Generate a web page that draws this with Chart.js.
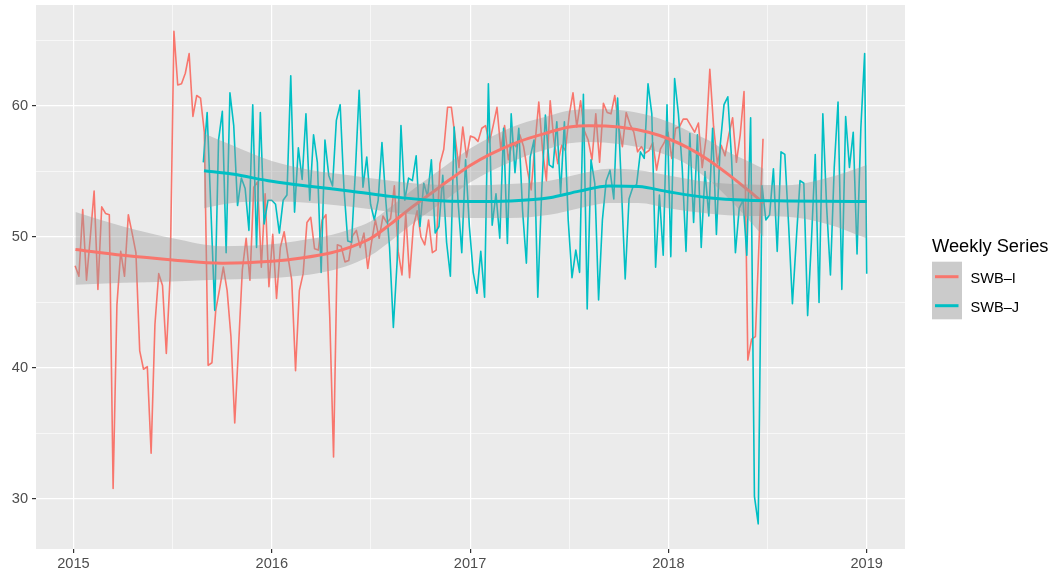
<!DOCTYPE html>
<html>
<head>
<meta charset="utf-8">
<script src="https://cdn.jsdelivr.net/npm/chart.js@4.4.1/dist/chart.umd.min.js"></script>
<style>
  html, body { margin: 0; padding: 0; background: #ffffff; }
  canvas { display: block; }
</style>
</head>
<body>
<canvas id="c" width="1053" height="571"></canvas>
<script>
// ---------------- DATA ----------------
const seriesNames = ["SWB\u2013I", "SWB\u2013J"];
const legendTitle = "Weekly Series";

// weekly observations, first week start (decimal year) and step
const weekStep = 7 / 365.25;
const swbIStart = 2015 + 3 / 365;        // 2015-01-04
const swbJStart = 2015 + 239 / 365;      // 2015-08-28
const swbJLastDate = 2019.0;             // final observation 2019-01-01

const swbIValues = [
  47.8, 47.0, 52.1, 46.7, 50.0, 53.5, 46.0, 52.3, 51.8, 51.7,
  30.8, 44.8, 48.9, 47.0, 51.7, 50.3, 48.8, 41.3, 39.9, 40.1,
  33.5, 43.3, 47.2, 46.3, 41.1, 47.0, 65.7, 61.6, 61.7, 62.5,
  64.0, 59.2, 60.8, 60.6, 58.0, 40.2, 40.4, 44.4, 46.0, 47.7,
  45.9, 42.4, 35.8, 41.6, 47.5, 49.9, 46.7, 53.8, 54.2, 47.7,
  53.3, 46.2, 50.2, 45.3, 49.2, 50.4, 48.5, 46.7, 39.8, 45.9,
  47.2, 51.1, 51.5, 49.1, 49.0, 51.3, 51.7, 43.9, 33.2, 49.4,
  49.3, 48.1, 48.2, 50.1, 50.5, 49.2, 50.3, 47.6, 49.6, 51.3,
  49.9, 51.6, 51.1, 51.4, 53.9, 48.9, 47.1, 51.8, 46.9, 50.8,
  52.0, 50.0, 49.4, 51.3, 48.8, 49.0, 55.6, 56.7, 59.9, 59.9,
  57.6, 55.3, 58.4, 56.1, 57.7, 57.6, 57.3, 58.3, 58.5, 57.2,
  58.5, 59.9, 56.7, 58.5, 55.9, 57.2, 56.9, 57.8, 56.9, 55.1,
  53.6, 57.1, 60.3, 56.6, 54.3, 60.4, 57.3, 55.6, 57.0, 56.6,
  59.3, 61.0, 58.4, 60.4, 58.1, 57.4, 55.9, 59.4, 55.7, 60.2,
  59.5, 59.4, 60.8, 58.5, 56.9, 59.5, 58.6, 58.0, 56.5, 56.9,
  56.4, 56.6, 57.2, 55.1, 56.7, 57.2, 58.0, 56.0, 58.3, 58.4,
  59.0, 59.0, 58.5, 58.0, 58.7, 55.3, 57.5, 62.8, 58.4, 55.6,
  57.0, 56.2, 57.8, 59.1, 55.7, 57.8, 61.1, 40.6, 42.2, 42.4,
  50.0, 57.5
];

const swbJValues = [
  55.7, 59.5, 52.0, 44.4, 57.4, 59.6, 48.8, 61.0, 58.5, 52.4,
  54.5, 53.7, 50.5, 60.1, 49.2, 59.5, 51.0, 52.8, 52.8, 52.5,
  50.3, 52.8, 53.2, 62.3, 51.9, 56.8, 54.4, 59.4, 52.8, 57.8,
  55.7, 47.3, 57.4, 54.7, 53.9, 58.9, 60.1, 53.7, 49.7, 49.6,
  55.0, 61.2, 53.8, 56.1, 52.5, 51.3, 52.8, 57.2, 52.8, 49.2,
  43.1, 48.2, 58.5, 52.8, 54.5, 54.3, 56.2, 50.8, 54.1, 53.1,
  55.9, 50.3, 50.8, 54.7, 49.6, 47.0, 58.4, 52.8, 48.8, 55.9,
  50.8, 47.3, 45.7, 48.9, 45.4, 61.7, 50.9, 53.3, 49.9, 58.3,
  49.5, 59.4, 54.9, 58.3, 52.0, 48.0, 56.1, 57.4, 45.4, 53.3,
  59.3, 55.5, 55.3, 58.8, 53.3, 58.8, 51.3, 46.9, 49.0, 47.3,
  60.9, 44.5, 55.9, 54.1, 45.2, 51.3, 54.3, 55.1, 52.9, 60.6,
  53.8, 46.8, 52.9, 53.8, 54.0, 56.5, 56.0, 61.7, 59.4, 47.7,
  53.2, 48.6, 60.1, 48.5, 62.1, 59.4, 55.3, 48.9, 57.9, 51.1,
  57.8, 49.2, 55.0, 51.6, 58.3, 50.2, 57.0, 60.1, 60.7, 55.9,
  48.8, 52.2, 52.8, 48.6, 59.1, 30.2, 28.1, 53.9, 51.3, 51.7,
  55.2, 48.9, 56.5, 56.3, 50.9, 44.9, 49.7, 54.3, 54.1, 44.0,
  49.7, 56.3, 45.0, 59.4, 52.3, 47.1, 55.3, 60.3, 46.0, 59.2,
  55.3, 58.0, 48.7, 58.3, 64.0
];
const swbJLastValue = 47.2;

// loess smooth (fit and 95% band)
const smoothIYears = [2015.01, 2015.25, 2015.5, 2015.75, 2016.0, 2016.15, 2016.3, 2016.4, 2016.5, 2016.6, 2016.7, 2016.8, 2016.9, 2017.0, 2017.1, 2017.25, 2017.4, 2017.5, 2017.6, 2017.75, 2017.9, 2018.0, 2018.1, 2018.2, 2018.3, 2018.4, 2018.48];
const smoothIFit   = [49.05, 48.6, 48.25, 48.0, 48.15, 48.4, 48.8, 49.25, 49.9, 51.0, 52.2, 53.3, 54.4, 55.45, 56.3, 57.3, 58.0, 58.4, 58.5, 58.4, 58.0, 57.5, 56.8, 55.9, 54.8, 53.6, 52.6];
const smoothILow   = [46.35, 46.5, 46.6, 46.75, 46.85, 47.05, 47.45, 47.9, 48.6, 49.7, 50.9, 52.0, 53.1, 54.15, 55.0, 56.0, 56.75, 57.15, 57.25, 57.1, 56.7, 56.2, 55.5, 54.4, 53.0, 51.4, 50.0];
const smoothIHigh  = [51.9, 50.8, 49.9, 49.3, 49.45, 49.75, 50.15, 50.6, 51.2, 52.3, 53.5, 54.6, 55.7, 56.75, 57.6, 58.6, 59.25, 59.65, 59.75, 59.7, 59.3, 58.8, 58.1, 57.4, 56.5, 55.8, 55.2];

const smoothJYears = [2015.658, 2015.8, 2016.0, 2016.2, 2016.4, 2016.6, 2016.8, 2017.0, 2017.2, 2017.4, 2017.55, 2017.7, 2017.85, 2018.0, 2018.2, 2018.4, 2018.6, 2018.8, 2019.0];
const smoothJFit   = [55.05, 54.8, 54.25, 53.85, 53.5, 53.1, 52.8, 52.7, 52.75, 53.0, 53.5, 53.9, 53.85, 53.45, 53.0, 52.8, 52.75, 52.72, 52.7];
const smoothJLow   = [52.2, 52.6, 52.7, 52.6, 52.3, 51.9, 51.6, 51.45, 51.45, 51.7, 52.2, 52.6, 52.6, 52.2, 51.8, 51.6, 51.55, 51.0, 49.9];
const smoothJHigh  = [57.9, 57.0, 55.8, 55.1, 54.7, 54.3, 54.0, 53.95, 54.05, 54.3, 54.8, 55.2, 55.1, 54.7, 54.2, 54.0, 53.95, 54.5, 55.5];

const xTickValues = [2015, 2015.5, 2016, 2016.5, 2017, 2017.5, 2018, 2018.5, 2019];
const yTickValues = [30, 35, 40, 45, 50, 55, 60, 65];

// ---------------- STYLE ----------------
const colI = "#F8766D";
const colJ = "#00BFC4";
const bandCol = "rgba(153,153,153,0.4)";
const panelBg = "#EBEBEB";
const FONT = "'Liberation Sans', Arial, Helvetica, sans-serif";

function pts(xs, ys) { return ys.map((v, i) => ({ x: xs[i], y: v })); }
function weekly(start, vals) { return vals.map((v, i) => ({ x: start + i * weekStep, y: v })); }

const rawI = weekly(swbIStart, swbIValues);
const rawJ = weekly(swbJStart, swbJValues).concat([{ x: swbJLastDate, y: swbJLastValue }]);

const panelPlugin = {
  id: 'panel',
  beforeDraw(chart) {
    const { ctx, chartArea: a } = chart;
    ctx.save();
    ctx.fillStyle = panelBg;
    ctx.fillRect(a.left, a.top, a.right - a.left, a.bottom - a.top);
    ctx.restore();
  },
  afterDraw(chart) {
    const ctx = chart.ctx;
    ctx.save();
    ctx.fillStyle = '#000000';
    ctx.font = '18.3px ' + FONT;
    ctx.textAlign = 'left';
    ctx.textBaseline = 'alphabetic';
    ctx.fillText(legendTitle, 932, 251.5);
    ctx.fillStyle = '#CBCBCB';
    ctx.fillRect(932, 261.7, 30, 57.6);
    const keys = [[colI, 276.7, 283.3], [colJ, 305.7, 311.9]];
    keys.forEach(([c, ly, ty], i) => {
      ctx.strokeStyle = c;
      ctx.lineWidth = 3;
      ctx.beginPath();
      ctx.moveTo(935, ly);
      ctx.lineTo(958.5, ly);
      ctx.stroke();
      ctx.fillStyle = '#000000';
      ctx.font = '14.6px ' + FONT;
      ctx.fillText(seriesNames[i], 970.5, ty);
    });
    ctx.restore();
  }
};

const lineBase = { pointRadius: 0, pointHoverRadius: 0, fill: false, borderJoinStyle: 'round', borderCapStyle: 'butt' };

new Chart(document.getElementById('c').getContext('2d'), {
  type: 'line',
  data: {
    datasets: [
      Object.assign({}, lineBase, { label: seriesNames[0], data: rawI, borderColor: colI, borderWidth: 1.6, tension: 0, order: 6 }),
      Object.assign({}, lineBase, { label: seriesNames[1], data: rawJ, borderColor: colJ, borderWidth: 1.6, tension: 0, order: 5 }),
      Object.assign({}, lineBase, { label: 'lowI', data: pts(smoothIYears, smoothILow), borderWidth: 0, borderColor: 'rgba(0,0,0,0)', cubicInterpolationMode: 'monotone', order: 4 }),
      Object.assign({}, lineBase, { label: 'highI', data: pts(smoothIYears, smoothIHigh), borderWidth: 0, borderColor: 'rgba(0,0,0,0)', cubicInterpolationMode: 'monotone', fill: { target: 2 }, backgroundColor: bandCol, order: 4 }),
      Object.assign({}, lineBase, { label: 'fitI', data: pts(smoothIYears, smoothIFit), borderColor: colI, borderWidth: 3, cubicInterpolationMode: 'monotone', order: 3 }),
      Object.assign({}, lineBase, { label: 'lowJ', data: pts(smoothJYears, smoothJLow), borderWidth: 0, borderColor: 'rgba(0,0,0,0)', cubicInterpolationMode: 'monotone', order: 2 }),
      Object.assign({}, lineBase, { label: 'highJ', data: pts(smoothJYears, smoothJHigh), borderWidth: 0, borderColor: 'rgba(0,0,0,0)', cubicInterpolationMode: 'monotone', fill: { target: 5 }, backgroundColor: bandCol, order: 2 }),
      Object.assign({}, lineBase, { label: 'fitJ', data: pts(smoothJYears, smoothJFit), borderColor: colJ, borderWidth: 3, cubicInterpolationMode: 'monotone', order: 1 })
    ]
  },
  options: {
    responsive: false,
    animation: false,
    events: [],
    layout: { padding: { left: 0, right: 148, top: 5, bottom: 0 } },
    plugins: { legend: { display: false }, tooltip: { enabled: false }, filler: { drawTime: 'beforeDatasetDraw' } },
    scales: {
      x: {
        type: 'linear',
        min: 2014.811,
        max: 2019.193,
        afterBuildTicks: s => { s.ticks = xTickValues.map(v => ({ value: v })); },
        afterFit: s => { s.height = 22; s.paddingLeft = 0; s.paddingRight = 0; },
        border: { display: false },
        grid: {
          color: '#FFFFFF',
          lineWidth: c => (c.tick && Number.isInteger(c.tick.value)) ? 1.2 : 0.6,
          tickColor: c => (c.tick && Number.isInteger(c.tick.value)) ? '#333333' : 'rgba(0,0,0,0)',
          tickWidth: 1.2,
          tickLength: 4
        },
        ticks: {
          autoSkip: false, maxRotation: 0, minRotation: 0, padding: 2,
          color: '#4D4D4D', font: { family: FONT, size: 14.6 },
          callback: v => Number.isInteger(v) ? String(v) : ''
        }
      },
      y: {
        type: 'linear',
        min: 26.18,
        max: 67.71,
        afterBuildTicks: s => { s.ticks = yTickValues.map(v => ({ value: v })); },
        afterFit: s => { s.width = 36; s.paddingTop = 0; s.paddingBottom = 0; },
        border: { display: false },
        grid: {
          color: '#FFFFFF',
          lineWidth: c => (c.tick && c.tick.value % 10 === 0) ? 1.2 : 0.6,
          tickColor: c => (c.tick && c.tick.value % 10 === 0) ? '#333333' : 'rgba(0,0,0,0)',
          tickWidth: 1.2,
          tickLength: 4
        },
        ticks: {
          autoSkip: false, padding: 4,
          color: '#4D4D4D', font: { family: FONT, size: 14.6 },
          callback: v => (v % 10 === 0) ? String(v) : ''
        }
      }
    }
  },
  plugins: [panelPlugin]
});
</script>
</body>
</html>
